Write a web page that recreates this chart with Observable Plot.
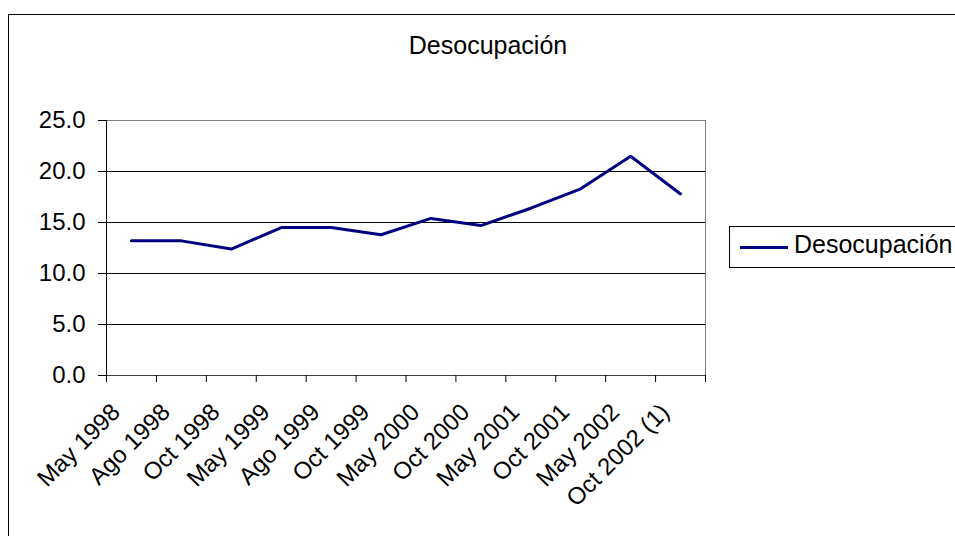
<!DOCTYPE html>
<html>
<head>
<meta charset="utf-8">
<script src="https://cdn.jsdelivr.net/npm/d3@7"></script>
<script src="https://cdn.jsdelivr.net/npm/@observablehq/plot@0.6"></script>
<style>
  html, body { margin: 0; padding: 0; background: #fff; overflow: hidden; }
  #wrap { position: relative; width: 955px; height: 536px; font-family: "Liberation Sans", Arial, sans-serif; }
  #border { position: absolute; left: 8px; top: 14px; width: 1000px; height: 600px; border: 1px solid #000; box-sizing: border-box; }
  #chart { position: absolute; left: 0; top: 0; }
  #legend { position: absolute; left: 729px; top: 226px; width: 260px; height: 42px; border: 1px solid #000; box-sizing: border-box; background: #fff; }
  #legend .swatch { position: absolute; left: 10px; top: 19px; width: 48px; height: 3px; background: #000080; }
  #legend .label { position: absolute; left: 64px; top: 5px; font-size: 25px; line-height: 25px; color: #000; white-space: nowrap; }
</style>
</head>
<body>
<div id="wrap">
  <div id="border"></div>
  <div id="chart"></div>
  <div id="legend"><div class="swatch"></div><div class="label"></div></div>
</div>
<script>
const title = "Desocupación";
const seriesName = "Desocupación";
const categories = ["May 1998", "Ago 1998", "Oct 1998", "May 1999", "Ago 1999", "Oct 1999",
                    "May 2000", "Oct 2000", "May 2001", "Oct 2001", "May 2002", "Oct 2002 (1)"];
const desocupacion = [13.2, 13.2, 12.4, 14.5, 14.5, 13.8, 15.4, 14.7, 16.4, 18.3, 21.5, 17.8];
const yTicks = [0, 5, 10, 15, 20, 25];

const data = categories.map((c, i) => ({cat: c, idx: i + 0.5, value: desocupacion[i]}));
const boundaries = d3.range(categories.length + 1);

const chart = Plot.plot({
  width: 955,
  height: 536,
  marginLeft: 106,
  marginRight: 250,
  marginTop: 120,
  marginBottom: 161,
  style: {fontFamily: "'Liberation Sans', Arial, sans-serif", fontSize: "24px", background: "transparent", color: "#000"},
  x: {type: "linear", domain: [0, categories.length], label: null},
  y: {domain: [0, 25], label: null},
  marks: [
    Plot.gridY(yTicks.filter(t => t > 0 && t < 25), {stroke: "#000", strokeOpacity: 1}),
    Plot.frame({stroke: "#808080"}),
    Plot.ruleX([0], {stroke: "#000"}),
    Plot.ruleY([0], {stroke: "#404040"}),
    Plot.axisY({ticks: yTicks, tickSize: 8, tickPadding: 13, tickFormat: d3.format(".1f"), label: null, fontSize: 24, stroke: "#000"}),
    Plot.axisX({ticks: boundaries, tickSize: 7, tickFormat: () => "", label: null, stroke: "#000"}),
    Plot.text(data, {x: "idx", text: "cat", frameAnchor: "bottom", rotate: -45, textAnchor: "end", lineAnchor: "bottom", dx: -10, dy: 38, fontSize: 24, fill: "#000"}),
    Plot.line(data, {x: "idx", y: "value", stroke: "#000080", strokeWidth: 3, strokeLinejoin: "miter"}),
    Plot.text([title], {frameAnchor: "top-left", dx: 381.5, dy: -67, textAnchor: "middle", lineAnchor: "bottom", fontSize: 25, fill: "#000"})
  ]
});
document.getElementById("chart").appendChild(chart);
document.querySelector("#legend .label").textContent = seriesName;
</script>
</body>
</html>
